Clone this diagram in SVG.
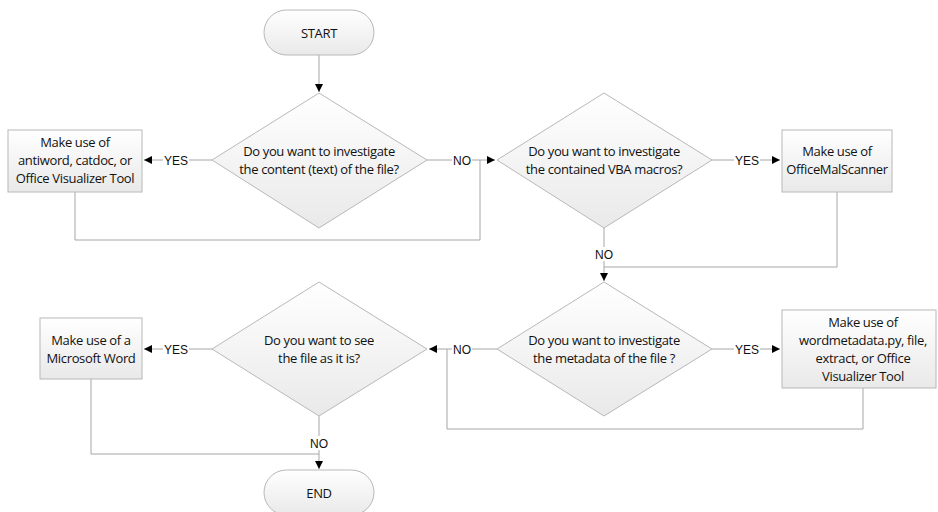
<svg xmlns="http://www.w3.org/2000/svg" width="938" height="512" viewBox="0 0 938 512">
<defs>
<linearGradient id="g" x1="0" y1="0" x2="0" y2="1">
<stop offset="0" stop-color="#ffffff"/>
<stop offset="1" stop-color="#e9e9e9"/>
</linearGradient>
<marker id="ah" viewBox="0 0 10 10" refX="10" refY="5" markerWidth="9" markerHeight="8" markerUnits="userSpaceOnUse" orient="auto">
<path d="M0,0 L10,5 L0,10 Z" fill="#000"/>
</marker>
<style>
.n{fill:url(#g);stroke:#b8b8b8;stroke-width:1}
.t{font-family:"Open Sans","Liberation Sans",sans-serif;font-size:13px;fill:#111;text-anchor:middle;letter-spacing:-0.35px}
.c{fill:none;stroke:#a6a6a6;stroke-width:1}
.l{font-family:"Liberation Sans",Arial,sans-serif;font-size:12px;fill:#111;text-anchor:middle}
.bg{fill:#fff}
</style>
</defs>
<rect width="938" height="512" fill="#fff"/>
<g id="connectors">
<path class="c" d="M319,55 V92" marker-end="url(#ah)"/>
<path class="c" d="M212,160 H144" marker-end="url(#ah)"/>
<path class="c" d="M427,160 H495" marker-end="url(#ah)"/>
<path class="c" d="M75,192 V240 H480 V160"/>
<path class="c" d="M712,160 H780" marker-end="url(#ah)"/>
<path class="c" d="M604,228 V281" marker-end="url(#ah)"/>
<path class="c" d="M837,192 V267 H604"/>
<path class="c" d="M712,349 H780" marker-end="url(#ah)"/>
<path class="c" d="M497,349 H429" marker-end="url(#ah)"/>
<path class="c" d="M863,388 V429 H447 V349"/>
<path class="c" d="M212,349 H144" marker-end="url(#ah)"/>
<path class="c" d="M319,416 V469" marker-end="url(#ah)"/>
<path class="c" d="M91,379 V454 H319"/>
<rect class="bg" x="163" y="153" width="26" height="14"/>
<text class="l" x="176" y="164.5">YES</text>
<rect class="bg" x="452" y="153" width="20" height="14"/>
<text class="l" x="462" y="164.5">NO</text>
<rect class="bg" x="734" y="153" width="26" height="14"/>
<text class="l" x="747" y="164.5">YES</text>
<rect class="bg" x="594" y="247" width="20" height="14"/>
<text class="l" x="604" y="258.5">NO</text>
<rect class="bg" x="734" y="342" width="26" height="14"/>
<text class="l" x="747" y="353.5">YES</text>
<rect class="bg" x="452" y="342" width="20" height="14"/>
<text class="l" x="462" y="353.5">NO</text>
<rect class="bg" x="163" y="342" width="26" height="14"/>
<text class="l" x="176" y="353.5">YES</text>
<rect class="bg" x="309" y="436" width="20" height="14"/>
<text class="l" x="319" y="447.5">NO</text>
</g>
<g id="start">
<rect class="n" x="264" y="10" width="110" height="45" rx="22.5"/>
<text class="t" x="319" y="37.5">START</text>
</g>
<g id="q1">
<polygon class="n" points="319,93 427,160 319,228 212,160"/>
<text class="t" x="319" y="155.5">Do you want to investigate</text>
<text class="t" x="319" y="173.5">the content (text) of the file?</text>
</g>
<g id="box1">
<rect class="n" x="8" y="130" width="134" height="62"/>
<text class="t" x="75" y="146.5">Make use of</text>
<text class="t" x="75" y="164.5">antiword, catdoc, or</text>
<text class="t" x="75" y="182.5">Office Visualizer Tool</text>
</g>
<g id="q2">
<polygon class="n" points="604,93 712,160 604,228 497,160"/>
<text class="t" x="604" y="155.5">Do you want to investigate</text>
<text class="t" x="604" y="173.5">the contained VBA macros?</text>
</g>
<g id="box2">
<rect class="n" x="782" y="130" width="110" height="62"/>
<text class="t" x="837" y="155.5">Make use of</text>
<text class="t" x="837" y="173.5">OfficeMalScanner</text>
</g>
<g id="q3">
<polygon class="n" points="604,282 712,349 604,416 497,349"/>
<text class="t" x="604" y="344.5">Do you want to investigate</text>
<text class="t" x="604" y="362.5">the metadata of the file ?</text>
</g>
<g id="box3">
<rect class="n" x="782" y="310" width="154" height="78"/>
<text class="t" x="863" y="326.5">Make use of</text>
<text class="t" x="863" y="344.5">wordmetadata.py, file,</text>
<text class="t" x="863" y="362.5">extract, or Office</text>
<text class="t" x="863" y="380.5">Visualizer Tool</text>
</g>
<g id="q4">
<polygon class="n" points="319,282 427,349 319,416 212,349"/>
<text class="t" x="319" y="344.5">Do you want to see</text>
<text class="t" x="319" y="362.5">the file as it is?</text>
</g>
<g id="box4">
<rect class="n" x="40" y="318" width="102" height="61"/>
<text class="t" x="91" y="344.5">Make use of a</text>
<text class="t" x="91" y="362.5">Microsoft Word</text>
</g>
<g id="end">
<rect class="n" x="264" y="470" width="110" height="45" rx="22.5"/>
<text class="t" x="319" y="497.5">END</text>
</g>
</svg>
